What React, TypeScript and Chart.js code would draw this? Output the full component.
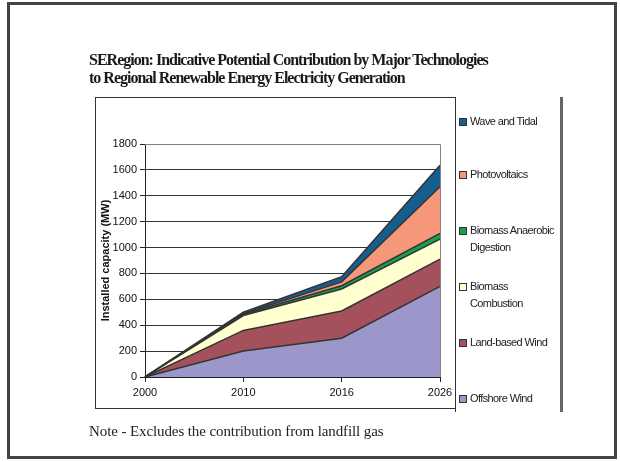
import React, { useEffect, useRef } from "react";
import { Chart, registerables } from "chart.js";

Chart.register(...registerables);

const years = ["2000", "2010", "2016", "2026"];
const offshoreWind = [0, 200, 300, 700];
const landWind = [0, 160, 210, 210];
const biomassCombustion = [0, 115, 170, 155];
const biomassAD = [0, 10, 25, 45];
const photovoltaics = [0, 5, 30, 360];
const waveTidal = [0, 10, 40, 165];

const seriesNames = [
  "Offshore Wind",
  "Land-based Wind",
  "Biomass Combustion",
  "Biomass Anaerobic Digestion",
  "Photovoltaics",
  "Wave and Tidal",
];
const seriesColors = ["#9b97cb", "#a5505d", "#ffffcf", "#16a04e", "#f5987a", "#155e8e"];
const seriesData = [offshoreWind, landWind, biomassCombustion, biomassAD, photovoltaics, waveTidal];

const legendItems = [
  { lines: ["Wave and Tidal"], color: seriesColors[5], top: 113 },
  { lines: ["Photovoltaics"], color: seriesColors[4], top: 166 },
  { lines: ["Biomass Anaerobic", "Digestion"], color: seriesColors[3], top: 222 },
  { lines: ["Biomass", "Combustion"], color: seriesColors[2], top: 278 },
  { lines: ["Land-based Wind"], color: seriesColors[1], top: 334 },
  { lines: ["Offshore Wind"], color: seriesColors[0], top: 390 },
];

const frame = {
  id: "frame",
  afterDatasetsDraw(chart: any) {
    const { ctx, chartArea } = chart;
    ctx.save();
    ctx.strokeStyle = "#8c7c7c";
    ctx.lineWidth = 1;
    ctx.beginPath();
    ctx.moveTo(chartArea.left, chartArea.top + 0.5);
    ctx.lineTo(chartArea.right + 0.5, chartArea.top + 0.5);
    ctx.lineTo(chartArea.right + 0.5, chartArea.bottom);
    ctx.stroke();
    ctx.restore();
  },
};

export default function App() {
  const ref = useRef<HTMLCanvasElement>(null);
  useEffect(() => {
    if (!ref.current) return;
    const chart = new Chart(ref.current, {
      type: "line",
      data: {
        labels: years,
        datasets: seriesData.map((d, i) => ({
          label: seriesNames[i],
          data: d,
          backgroundColor: seriesColors[i],
          borderColor: "#333333",
          borderWidth: 1.5,
          pointRadius: 0,
          fill: i === 0 ? "origin" : "-1",
          tension: 0,
        })),
      },
      options: {
        animation: false,
        responsive: false,
        events: [],
        layout: { padding: { left: 99, right: 180, top: 144, bottom: 60 } },
        plugins: { legend: { display: false }, tooltip: { enabled: false }, title: { display: false } },
        scales: {
          x: {
            offset: false,
            afterFit: (s: any) => { s.height = 25; },
            grid: { drawOnChartArea: false, drawTicks: true, tickLength: 5, tickColor: "#222", color: "#222" },
            border: { display: true, color: "#222", width: 1 },
            ticks: { color: "#111", font: { family: "Liberation Sans, Arial", size: 11 }, padding: 4, maxRotation: 0 },
          },
          y: {
            stacked: true,
            min: 0,
            max: 1800,
            afterFit: (s: any) => { s.width = 46; },
            ticks: {
              stepSize: 200,
              color: "#111",
              font: { family: "Liberation Sans, Arial", size: 11 },
              padding: 3,
              callback: (v: any) => String(v),
            },
            grid: { color: (c: any) => (c.tick && c.tick.value === 1800 ? "rgba(0,0,0,0)" : "#333"), lineWidth: 1, tickLength: 5, tickColor: "#222" },
            border: { display: true, color: "#222", width: 1 },
            title: {
              display: true,
              text: "Installed capacity (MW)",
              color: "#111",
              font: { family: "Liberation Sans, Arial", size: 11, weight: "bold" },
              padding: { top: 0, bottom: 0 },
            },
          },
        },
      },
      plugins: [frame],
    } as any);
    return () => chart.destroy();
  }, []);

  return (
    <div style={{ position: "fixed", left: 0, top: 0, width: 620, height: 462, background: "#fff", overflow: "hidden" }}>
      <div style={{ position: "absolute", left: 7, top: 2, width: 604, height: 451, border: "3px solid #444" }} />
      <div style={{ position: "absolute", left: 95, top: 97, width: 359, height: 310, border: "1px solid #333", borderRight: "none" }} />
      <div style={{ position: "absolute", left: 455, top: 97, width: 104, height: 315, borderLeft: "1px solid #333", borderRight: "3px solid #666" }} />
      <canvas ref={ref} width={620} height={462} style={{ position: "absolute", left: 0, top: 0 }} />
      <div
        style={{
          position: "absolute",
          left: 89,
          top: 51,
          fontFamily: "Liberation Serif, Times New Roman, serif",
          fontWeight: "bold",
          fontSize: 16,
          lineHeight: "18px",
          color: "#1a1a1a",
          letterSpacing: "-1px",
          whiteSpace: "nowrap",
        }}
      >
        <div>SERegion: Indicative Potential Contribution by Major Technologies</div>
        <div>to Regional Renewable Energy Electricity Generation</div>
      </div>
      {legendItems.map((it, i) => (
        <div key={i} style={{ position: "absolute", left: 459, top: it.top, fontFamily: "Liberation Sans, Arial", fontSize: 11, lineHeight: "17px", color: "#222", letterSpacing: "-0.6px", whiteSpace: "nowrap" }}>
          <span style={{ position: "absolute", left: 0, top: 5, width: 6, height: 6, background: it.color, border: "1px solid #333" }} />
          <div style={{ marginLeft: 11 }}>
            {it.lines.map((l, j) => (
              <div key={j}>{l}</div>
            ))}
          </div>
        </div>
      ))}
      <div
        style={{
          position: "absolute",
          left: 89,
          top: 423,
          fontFamily: "Liberation Serif, Times New Roman, serif",
          fontSize: 15,
          color: "#222",
          letterSpacing: "-0.1px",
          whiteSpace: "nowrap",
        }}
      >
        Note - Excludes the contribution from landfill gas
      </div>
    </div>
  );
}
